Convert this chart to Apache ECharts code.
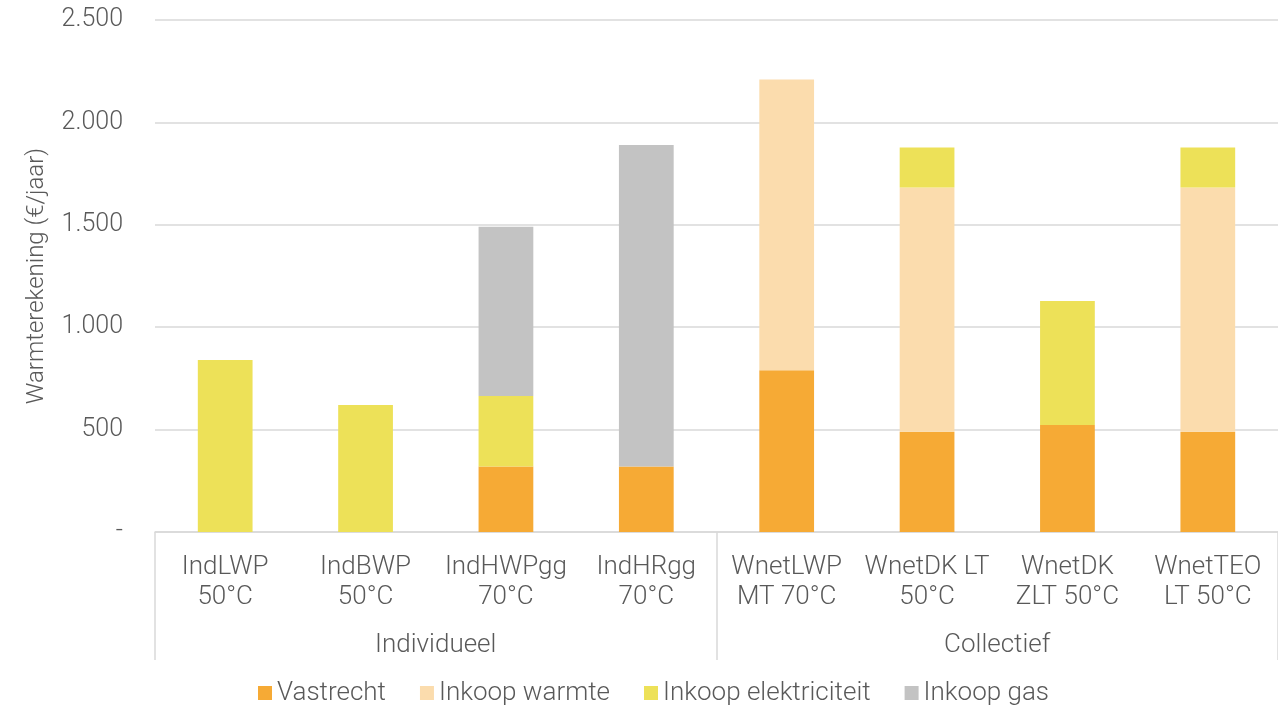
<!DOCTYPE html>
<html>
<head>
<meta charset="utf-8">
<script src="https://cdn.jsdelivr.net/npm/echarts@6/dist/echarts.min.js"></script>
<style>
  html, body { margin: 0; padding: 0; background: #fff; }
  #chart { width: 1278px; height: 705px; }
</style>
</head>
<body>
<div id="chart"></div>
<script>
// Varianten (twee regels per label) en hun groepen
const categories = [
  'IndLWP\n50°C', 'IndBWP\n50°C', 'IndHWPgg\n70°C', 'IndHRgg\n70°C',
  'WnetLWP\nMT 70°C', 'WnetDK LT\n50°C', 'WnetDK\nZLT 50°C', 'WnetTEO\nLT 50°C'
];
const groups = ['Individueel', 'Collectief'];

// Kostencomponenten (€/jaar)
const vastrecht           = [0, 0, 320, 320, 790, 490, 522, 490];
const inkoopWarmte        = [0, 0, 0, 0, 1420, 1192, 0, 1192];
const inkoopElektriciteit = [840, 620, 344, 0, 0, 196, 606, 196];
const inkoopGas           = [0, 0, 826, 1570, 0, 0, 0, 0];

const yTicks = { min: 0, max: 2500, step: 500 };

const textColor = '#595959';
const lineColor = '#d9d9d9';
const font = 'Roboto';
const fs = 26;

function fmt(v) {
  if (v === 0) return '-';
  return String(v).replace(/\B(?=(\d{3})+(?!\d))/g, '.');
}

const chart = echarts.init(document.getElementById('chart'));

function bar(name, data, color) {
  return {
    name, type: 'bar', stack: 'totaal', data,
    barWidth: '39%',
    itemStyle: { color },
    emphasis: { disabled: true }
  };
}

chart.setOption({
  animation: false,
  textStyle: { fontFamily: font },
  grid: { left: 155, right: 0, top: 20, bottom: 173, containLabel: false },
  legend: {
    top: 675,
    left: 253,
    icon: 'rect',
    itemWidth: 14,
    itemHeight: 14,
    itemGap: 34,
    textStyle: { color: textColor, fontSize: fs, fontWeight: 300, fontFamily: font },
    data: ['Vastrecht', 'Inkoop warmte', 'Inkoop elektriciteit', 'Inkoop gas']
  },
  xAxis: [
    {
      type: 'category',
      data: categories,
      axisLine: { show: true, lineStyle: { color: lineColor, width: 1.5 } },
      axisTick: { show: false },
      axisLabel: {
        color: textColor, fontSize: fs, fontWeight: 300, lineHeight: 30,
        margin: 20, interval: 0, fontFamily: font
      }
    },
    {
      type: 'category',
      data: groups,
      position: 'bottom',
      axisLine: { show: false },
      axisTick: { show: true, length: 128, lineStyle: { color: lineColor, width: 1.5 } },
      axisLabel: {
        color: textColor, fontSize: fs, fontWeight: 300,
        margin: 100, interval: 0, fontFamily: font
      }
    }
  ],
  yAxis: {
    type: 'value',
    min: yTicks.min,
    max: yTicks.max,
    interval: yTicks.step,
    name: 'Warmterekening (€/jaar)',
    nameLocation: 'middle',
    nameGap: 106,
    nameRotate: 90,
    nameTextStyle: { color: textColor, fontSize: 24, fontWeight: 300, fontFamily: font },
    axisLine: { show: false },
    axisTick: { show: false },
    axisLabel: {
      color: textColor, fontSize: 25, fontWeight: 300, margin: 32,
      formatter: fmt, fontFamily: font
    },
    splitLine: { lineStyle: { color: lineColor, width: 1.5 } }
  },
  series: [
    bar('Vastrecht', vastrecht, '#F6AA35'),
    bar('Inkoop warmte', inkoopWarmte, '#FBDCAD'),
    bar('Inkoop elektriciteit', inkoopElektriciteit, '#EDE158'),
    bar('Inkoop gas', inkoopGas, '#C3C3C3')
  ]
});
</script>
</body>
</html>
